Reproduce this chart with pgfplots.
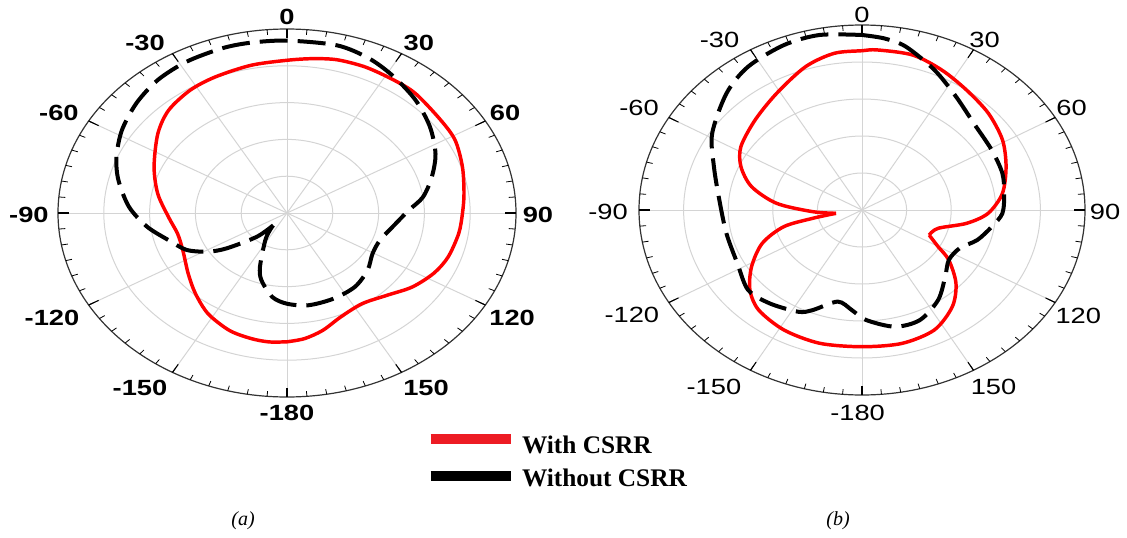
\documentclass[border=0pt]{standalone}
\usepackage{pgfplots}
\pgfplotsset{compat=1.18}
\usepackage{pgfplotstable}
\usepackage{graphicx}
\usepackage{fontspec}
\setmainfont{Liberation Serif}
\newfontfamily\labfont{Liberation Sans}

\definecolor{curvered}{RGB}{255,0,0}
\definecolor{legred}{RGB}{237,28,36}
\definecolor{gridc}{RGB}{212,212,212}

% angle a: degrees clockwise from top; r: normalised radius (outer ring = 1)
\pgfplotstableread{
a r
-180 0.700
-173.6 0.705
-167 0.700
-158.5 0.686
-147.8 0.647
-137.6 0.593
-127.4 0.543
-114 0.498
-103.2 0.491
-92.4 0.518
-79.5 0.574
-66.7 0.632
-52.6 0.710
-42.8 0.761
-32.4 0.790
-23 0.803
-11.1 0.818
0 0.830
7.5 0.846
14.7 0.861
23.4 0.864
33 0.860
40.9 0.858
53 0.840
61.7 0.834
71.9 0.806
82.3 0.780
90.3 0.766
98.5 0.758
108.8 0.743
117 0.720
126.3 0.679
135.7 0.625
146.4 0.592
157.5 0.612
166.3 0.657
173.6 0.687
180 0.700
}\redA

\pgfplotstableread{
a r
-138 0.090
-134.4 0.185
-126.1 0.326
-121.3 0.404
-114.6 0.482
-105.9 0.538
-96.9 0.616
-87.2 0.691
-76.3 0.758
-67.7 0.805
-58 0.850
-47.8 0.888
-38 0.917
-28.1 0.932
-17.5 0.939
-9.7 0.939
0 0.937
13.5 0.937
23.2 0.913
32.3 0.875
42.6 0.831
53.2 0.780
63.6 0.724
72.8 0.662
81.7 0.600
88.5 0.531
98 0.473
110 0.432
120.6 0.434
131.6 0.470
143.6 0.499
156.5 0.508
169.5 0.510
180 0.493
188 0.461
197 0.382
202 0.315
212.5 0.177
218.8 0.118
222 0.090
}\blackA

\pgfplotstableread{
a r
-98.7 0.118
-92.3 0.222
-84.6 0.385
-75.7 0.511
-66.7 0.591
-57.8 0.642
-44.6 0.683
-31.2 0.738
-18.1 0.815
-8.4 0.856
0 0.861
4.5 0.868
15.2 0.868
25.3 0.837
35.9 0.800
47.3 0.771
59 0.735
70.1 0.687
81.9 0.636
91.8 0.566
98.7 0.475
106.2 0.355
114.2 0.330
}\redBa

\pgfplotstableread{
a r
114.2 0.330
120.1 0.394
124.8 0.474
133.2 0.578
142.2 0.661
153.4 0.725
166 0.743
180 0.739
194.8 0.745
208.3 0.737
220.6 0.712
229.3 0.663
238.3 0.582
248.1 0.482
255.6 0.362
258.5 0.226
261.3 0.118
}\redBb

\pgfplotstableread{
a r
0 0.946
6.1 0.933
12.5 0.905
23.2 0.824
34.5 0.744
47 0.686
60.9 0.666
72.5 0.660
82 0.644
91.6 0.630
98.8 0.589
107.4 0.542
115.3 0.484
124.8 0.474
133.9 0.518
144.9 0.594
156.4 0.649
166.8 0.648
178.2 0.595
184.8 0.543
192.4 0.507
202.3 0.585
207.5 0.620
219.4 0.653
229.8 0.669
242.7 0.629
258.3 0.621
274.8 0.642
289.4 0.704
301.6 0.789
316.1 0.876
326.6 0.928
338.6 0.958
348.6 0.965
360 0.946
}\blackB

\pgfplotsset{
  polarframe/.style={
    scale only axis, hide axis, clip=false,
    xmin=-1, xmax=1, ymin=-1, ymax=1,
  },
  redcurve/.style={curvered, line width=2.6pt, smooth, no markers, data cs=polar},
  blackcurve/.style={black, line width=3pt, smooth, no markers, data cs=polar,
    dash pattern=on 21pt off 7.5pt},
}

\newcommand{\polargrid}{%
  \pgfplotsinvokeforeach{0.2,0.4,0.6,0.8}{%
    \draw[gridc, line width=0.75pt] (axis cs:0,0) ellipse [x radius=##1, y radius=##1];}%
  \pgfplotsinvokeforeach{0,30,60,90,120,150,180,210,240,270,300,330}{%
    \draw[gridc, line width=0.75pt] (axis cs:0,0) -- (axis cs:{sin(##1)},{cos(##1)});}%
  \draw[black!80, line width=0.9pt] (axis cs:0,0) ellipse [x radius=1, y radius=1];
  \pgfplotsinvokeforeach{0,5,...,355}{%
    \draw[black, line width=0.6pt] (axis cs:{sin(##1)},{cos(##1)}) -- (axis cs:{0.972*sin(##1)},{0.972*cos(##1)});}%
  \pgfplotsinvokeforeach{0,30,60,90,120,150,180,210,240,270,300,330}{%
    \draw[black, line width=0.8pt] (axis cs:{sin(##1)},{cos(##1)}) -- (axis cs:{0.95*sin(##1)},{0.95*cos(##1)});}%
}

\newcommand{\labA}[1]{\scalebox{1.24}[1]{\labfont\bfseries\fontsize{16.5}{18}\selectfont #1}}
\newcommand{\labB}[1]{\scalebox{1.24}[1]{\labfont\fontsize{16.5}{18}\selectfont #1}}

\begin{document}
\begin{tikzpicture}
\path[use as bounding box] (0,0) rectangle (845.25pt,402.75pt);

% ---------- (a) ----------
\begin{axis}[polarframe, at={(215.25pt,243pt)}, anchor=center,
  width=343.5pt, height=276pt]
\polargrid
\addplot[redcurve] table[x expr=90-\thisrow{a}, y=r] {\redA};
\addplot[blackcurve] table[x expr=90-\thisrow{a}, y=r] {\blackA};
\node at (axis cs:0,1.065) {\labA{0}};
\node at (axis cs:0.576,0.924) {\labA{30}};
\node at (axis cs:0.952,0.543) {\labA{60}};
\node at (axis cs:1.096,-0.011) {\labA{90}};
\node at (axis cs:0.983,-0.571) {\labA{120}};
\node at (axis cs:0.607,-0.951) {\labA{150}};
\node at (axis cs:0,-1.087) {\labA{-180}};
\node at (axis cs:-0.642,-0.951) {\labA{-150}};
\node at (axis cs:-1.026,-0.571) {\labA{-120}};
\node at (axis cs:-1.127,-0.011) {\labA{-90}};
\node at (axis cs:-0.996,0.543) {\labA{-60}};
\node at (axis cs:-0.620,0.924) {\labA{-30}};
\end{axis}

% ---------- (b) ----------
\begin{axis}[polarframe, at={(646.5pt,245.25pt)}, anchor=center,
  width=334.5pt, height=277.5pt]
\polargrid
\addplot[redcurve] table[x expr=90-\thisrow{a}, y=r] {\redBa};
\addplot[redcurve] table[x expr=90-\thisrow{a}, y=r] {\redBb};
\addplot[blackcurve] table[x expr=90-\thisrow{a}, y=r] {\blackB};
\node at (axis cs:0,1.054) {\labB{0}};
\node at (axis cs:0.55,0.919) {\labB{30}};
\node at (axis cs:0.94,0.551) {\labB{60}};
\node at (axis cs:1.09,-0.011) {\labB{90}};
\node at (axis cs:0.97,-0.57) {\labB{120}};
\node at (axis cs:0.59,-0.957) {\labB{150}};
\node at (axis cs:-0.02,-1.097) {\labB{-180}};
\node at (axis cs:-0.664,-0.957) {\labB{-150}};
\node at (axis cs:-1.032,-0.568) {\labB{-120}};
\node at (axis cs:-1.139,-0.011) {\labB{-90}};
\node at (axis cs:-1.0,0.551) {\labB{-60}};
\node at (axis cs:-0.639,0.919) {\labB{-30}};
\end{axis}

% ---------- legend ----------
\draw[legred, line width=7.5pt] (323pt,73.5pt) -- (383.25pt,73.5pt);
\draw[black, line width=7.5pt] (323pt,46pt) -- (383.25pt,46pt);
\node[anchor=base west, inner sep=0pt] at (391.3pt,63pt)
  {\fontsize{19}{21}\selectfont\bfseries With CSRR};
\node[anchor=base west, inner sep=0pt] at (391.3pt,38.25pt)
  {\fontsize{19}{21}\selectfont\bfseries Without CSRR};

% ---------- captions ----------
\node at (182.25pt,12pt) {\fontsize{15}{17}\selectfont\itshape (a)};
\node at (628.5pt,12pt) {\fontsize{15}{17}\selectfont\itshape (b)};
\end{tikzpicture}
\end{document}
